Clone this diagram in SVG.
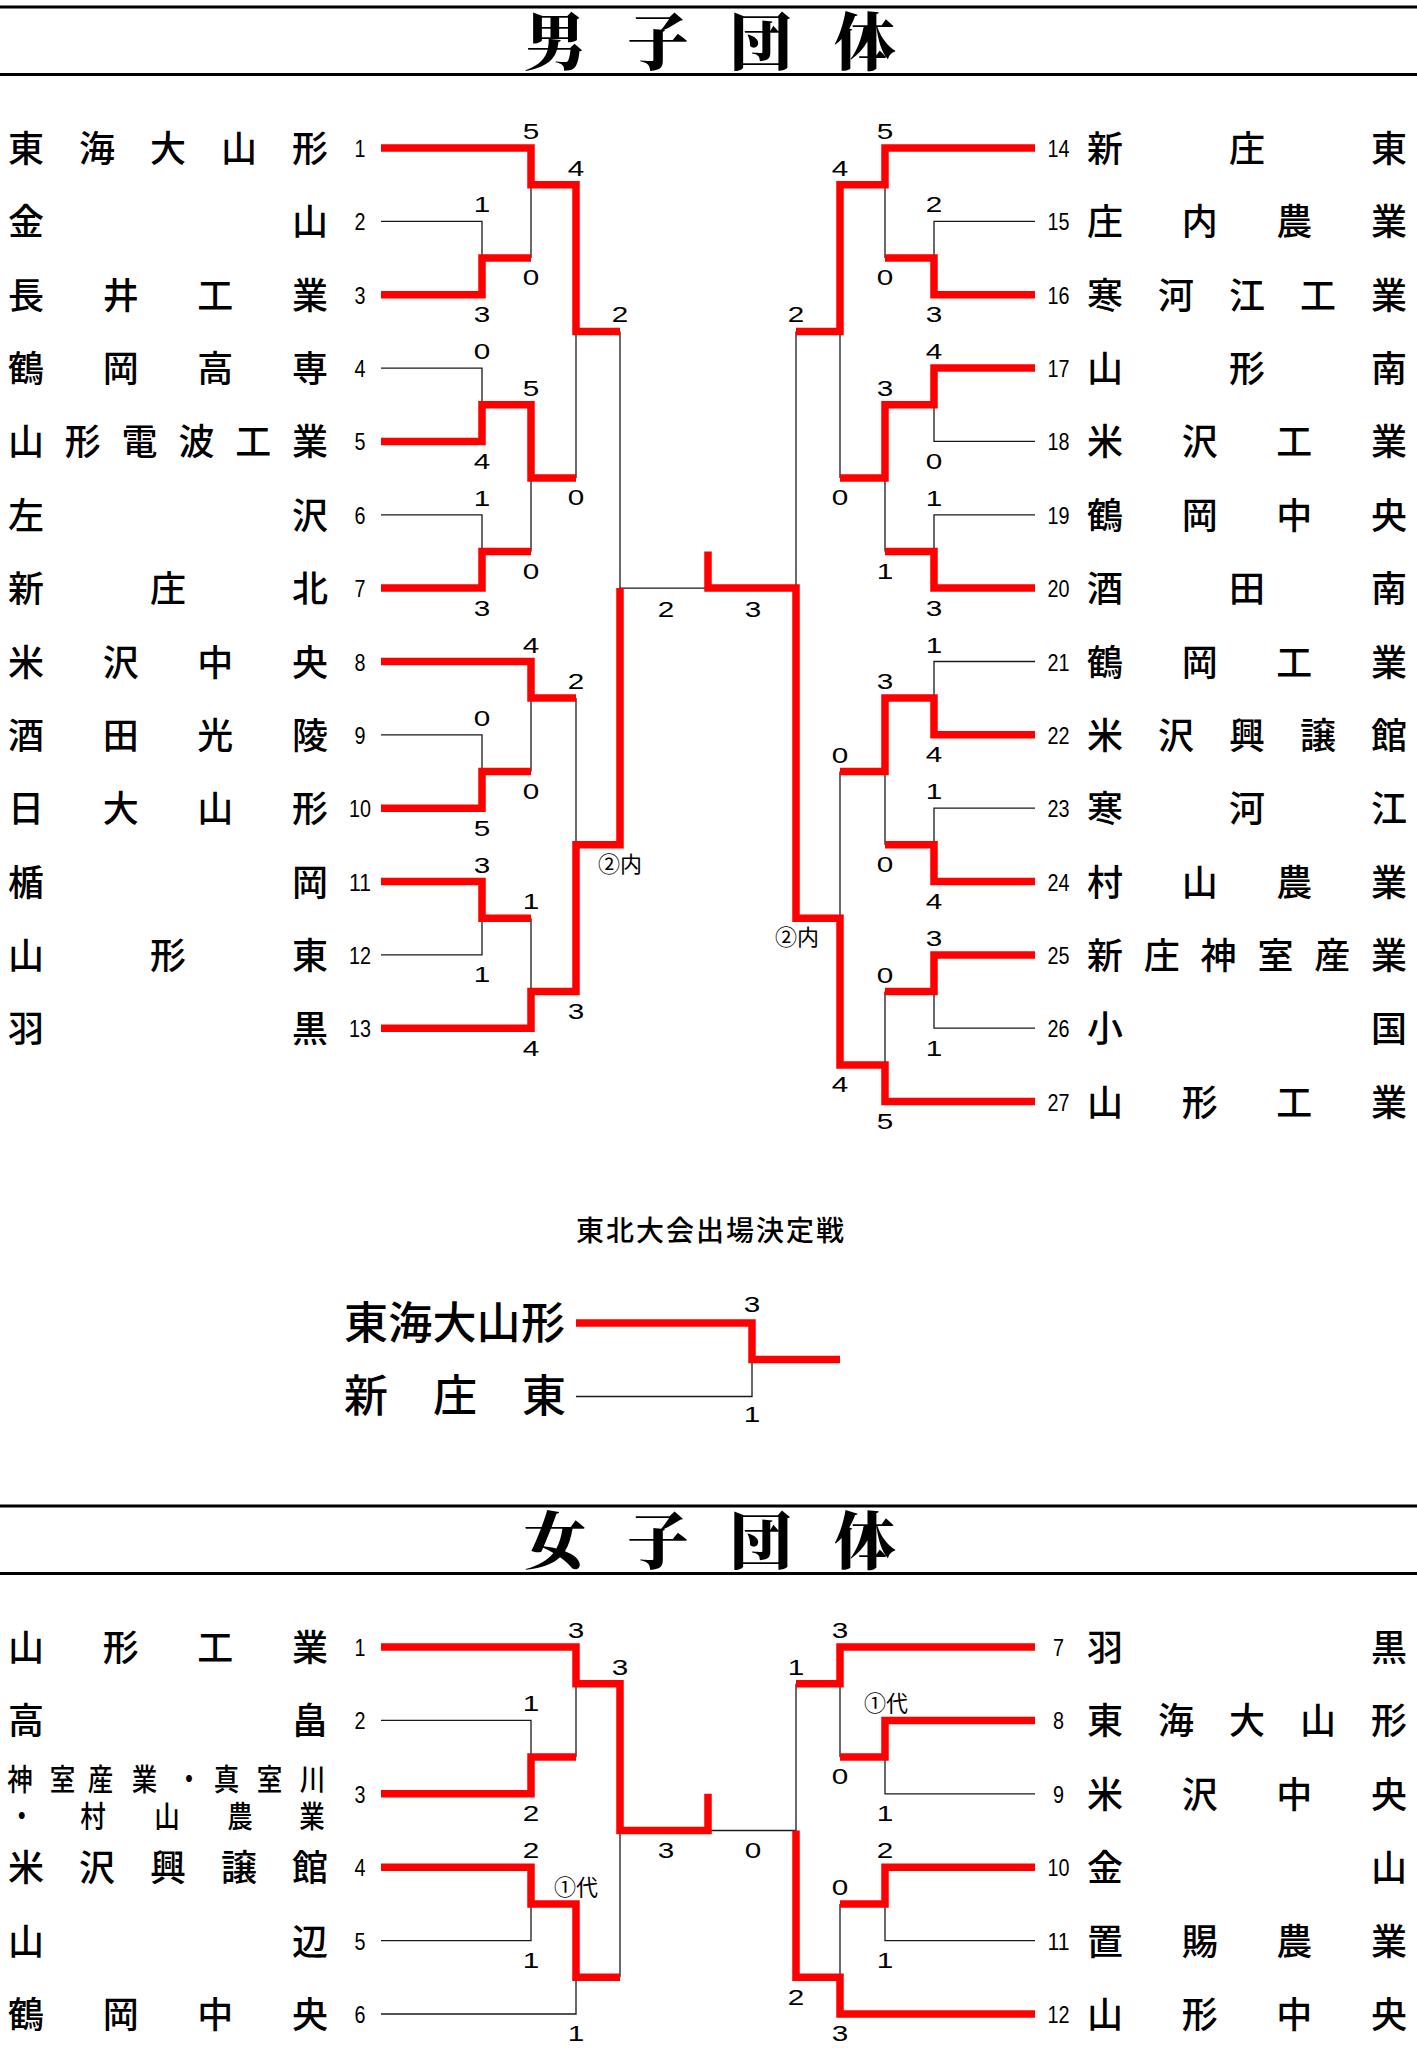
<svg xmlns="http://www.w3.org/2000/svg" width="1417" height="2048" viewBox="0 0 1417 2048">
<style>
.bg{fill:#fff}
.nm{font-family:"Noto Sans CJK JP","Noto Sans CJK SC",sans-serif;font-size:36px;font-weight:500;text-anchor:middle;fill:#000}
.nm2{font-family:"Noto Sans CJK JP","Noto Sans CJK SC",sans-serif;font-size:30px;font-weight:500;text-anchor:middle;fill:#000}
.no{font-family:"Liberation Sans",Arial,sans-serif;font-size:24px;text-anchor:middle;fill:#000}
.sc{font-family:"Liberation Sans",Arial,sans-serif;font-size:22.5px;text-anchor:middle;fill:#000}
.sj{font-family:"Noto Sans CJK JP","Noto Sans CJK SC",sans-serif;font-size:22px;text-anchor:middle;fill:#000}
.ttl{font-family:"Noto Serif CJK JP","Noto Sans CJK JP",serif;font-size:62px;font-weight:900;text-anchor:middle;fill:#000}
.sub{font-family:"Noto Sans CJK JP","Noto Sans CJK SC",sans-serif;font-size:28px;font-weight:500;letter-spacing:2px;text-anchor:middle;fill:#000}
.big{font-family:"Noto Sans CJK JP","Noto Sans CJK SC",sans-serif;font-size:44px;font-weight:500;text-anchor:middle;fill:#000}
.red{fill:none;stroke:#ff0000;stroke-width:7.5;stroke-linejoin:miter;stroke-linecap:butt}
.thin{fill:none;stroke:#1a1a1a;stroke-width:1.3}
.hdr{stroke:#000;stroke-width:3}
</style>
<rect class="bg" x="0" y="0" width="1417" height="2048"/>

<g id="header-men">
<line class="hdr" x1="0" y1="7" x2="1417" y2="7"/>
<line class="hdr" x1="0" y1="74.4" x2="1417" y2="74.4"/>
<text class="ttl" x="555 658 761 865" y="65">男子団体</text>
</g>

<g id="header-women">
<line class="hdr" x1="0" y1="1506" x2="1417" y2="1506"/>
<line class="hdr" x1="0" y1="1573.6" x2="1417" y2="1573.6"/>
<text class="ttl" x="555 658 761 865" y="1564">女子団体</text>
</g>

<g id="connectors">
<path class="thin" d="M381 221.4H482V258"/>
<path class="thin" d="M531 184.7V258"/>
<path class="thin" d="M381 368.1H482V404.7"/>
<path class="thin" d="M381 514.8H482V551.4"/>
<path class="thin" d="M531 478.1V551.4"/>
<path class="thin" d="M576 331.4V478.1"/>
<path class="thin" d="M620 331.4V588.1H708"/>
<path class="thin" d="M381 734.8H482V771.5"/>
<path class="thin" d="M531 698.1V771.5"/>
<path class="thin" d="M381 954.9H482V918.2"/>
<path class="thin" d="M531 918.2V991.5"/>
<path class="thin" d="M576 698.1V844.8"/>
<path class="thin" d="M1035 221.4H934V258"/>
<path class="thin" d="M885 184.7V258"/>
<path class="thin" d="M1035 441.4H934V404.7"/>
<path class="thin" d="M1035 514.8H934V551.4"/>
<path class="thin" d="M885 478.1V551.4"/>
<path class="thin" d="M840 331.4V478.1"/>
<path class="thin" d="M796 331.4V588.1"/>
<path class="thin" d="M1035 661.5H934V698.1"/>
<path class="thin" d="M1035 808.2H934V844.8"/>
<path class="thin" d="M885 771.5V844.8"/>
<path class="thin" d="M1035 1028.2H934V991.5"/>
<path class="thin" d="M885 991.5V1064.9"/>
<path class="thin" d="M840 771.5V918.2"/>
<path class="red" d="M381 148H531V184.7H576V331.4H620"/>
<path class="red" d="M381 294.7H482V258H531"/>
<path class="red" d="M381 441.4H482V404.7H531V478.1H576"/>
<path class="red" d="M381 588.1H482V551.4H531"/>
<path class="red" d="M381 661.5H531V698.1H576"/>
<path class="red" d="M381 808.2H482V771.5H531"/>
<path class="red" d="M381 881.5H482V918.2H531"/>
<path class="red" d="M381 1028.2H531V991.5H576V844.8H620V588.1"/>
<path class="red" d="M1035 148H885V184.7H840V331.4H796"/>
<path class="red" d="M1035 294.7H934V258H885"/>
<path class="red" d="M1035 368.1H934V404.7H885V478.1H840"/>
<path class="red" d="M1035 588.1H934V551.4H885"/>
<path class="red" d="M1035 734.8H934V698.1H885V771.5H840"/>
<path class="red" d="M1035 881.5H934V844.8H885"/>
<path class="red" d="M1035 954.9H934V991.5H885"/>
<path class="red" d="M708 551.4V588.1H796V918.2H840V1064.9H885V1101.6H1035"/>
<path class="thin" d="M576 1396.5H752V1359.5"/>
<path class="red" d="M576 1323H752V1359.5H840"/>
<path class="thin" d="M381 1720.4H531V1757.1"/>
<path class="thin" d="M576 1683.7V1757.1"/>
<path class="thin" d="M381 1940.6H531V1903.9"/>
<path class="thin" d="M381 2014H576V1977.3"/>
<path class="thin" d="M620 1830.5V1977.3"/>
<path class="thin" d="M708 1830.5H796V1683.7"/>
<path class="thin" d="M840 1683.7V1757.1"/>
<path class="thin" d="M1035 1793.8H885V1757.1"/>
<path class="thin" d="M1035 1940.6H885V1903.9"/>
<path class="thin" d="M840 1903.9V1977.3"/>
<path class="red" d="M381 1647H576V1683.7H620V1830.5H708V1793.8"/>
<path class="red" d="M381 1793.8H531V1757.1H576"/>
<path class="red" d="M381 1867.2H531V1903.9H576V1977.3H620"/>
<path class="red" d="M1035 1647H840V1683.7H796"/>
<path class="red" d="M1035 1720.4H885V1757.1H840"/>
<path class="red" d="M1035 1867.2H885V1903.9H840"/>
<path class="red" d="M1035 2014H840V1977.3H796V1830.5"/>
</g>

<g id="scores">
<text class="sc" x="531" y="139" textLength="16.5" lengthAdjust="spacingAndGlyphs">5</text>
<text class="sc" x="482" y="212.4" textLength="16.5" lengthAdjust="spacingAndGlyphs">1</text>
<text class="sc" x="531" y="285.3" textLength="16.5" lengthAdjust="spacingAndGlyphs">0</text>
<text class="sc" x="482" y="322" textLength="16.5" lengthAdjust="spacingAndGlyphs">3</text>
<text class="sc" x="576" y="175.7" textLength="16.5" lengthAdjust="spacingAndGlyphs">4</text>
<text class="sc" x="620" y="322.4" textLength="16.5" lengthAdjust="spacingAndGlyphs">2</text>
<text class="sc" x="482" y="359.1" textLength="16.5" lengthAdjust="spacingAndGlyphs">0</text>
<text class="sc" x="531" y="395.7" textLength="16.5" lengthAdjust="spacingAndGlyphs">5</text>
<text class="sc" x="482" y="468.7" textLength="16.5" lengthAdjust="spacingAndGlyphs">4</text>
<text class="sc" x="576" y="505.4" textLength="16.5" lengthAdjust="spacingAndGlyphs">0</text>
<text class="sc" x="482" y="505.8" textLength="16.5" lengthAdjust="spacingAndGlyphs">1</text>
<text class="sc" x="531" y="578.7" textLength="16.5" lengthAdjust="spacingAndGlyphs">0</text>
<text class="sc" x="482" y="615.6" textLength="16.5" lengthAdjust="spacingAndGlyphs">3</text>
<text class="sc" x="531" y="652.5" textLength="16.5" lengthAdjust="spacingAndGlyphs">4</text>
<text class="sc" x="576" y="689.1" textLength="16.5" lengthAdjust="spacingAndGlyphs">2</text>
<text class="sc" x="482" y="725.8" textLength="16.5" lengthAdjust="spacingAndGlyphs">0</text>
<text class="sc" x="531" y="798.8" textLength="16.5" lengthAdjust="spacingAndGlyphs">0</text>
<text class="sc" x="482" y="835.5" textLength="16.5" lengthAdjust="spacingAndGlyphs">5</text>
<text class="sc" x="482" y="872.5" textLength="16.5" lengthAdjust="spacingAndGlyphs">3</text>
<text class="sc" x="531" y="909.2" textLength="16.5" lengthAdjust="spacingAndGlyphs">1</text>
<text class="sc" x="482" y="982.2" textLength="16.5" lengthAdjust="spacingAndGlyphs">1</text>
<text class="sc" x="576" y="1018.8" textLength="16.5" lengthAdjust="spacingAndGlyphs">3</text>
<text class="sc" x="531" y="1055.5" textLength="16.5" lengthAdjust="spacingAndGlyphs">4</text>
<text class="sj" x="620" y="871.5">②内</text>
<text class="sc" x="666" y="616.5" textLength="16.5" lengthAdjust="spacingAndGlyphs">2</text>
<text class="sc" x="753" y="616.5" textLength="16.5" lengthAdjust="spacingAndGlyphs">3</text>

<text class="sc" x="885" y="139" textLength="16.5" lengthAdjust="spacingAndGlyphs">5</text>
<text class="sc" x="840" y="175.7" textLength="16.5" lengthAdjust="spacingAndGlyphs">4</text>
<text class="sc" x="934" y="212.4" textLength="16.5" lengthAdjust="spacingAndGlyphs">2</text>
<text class="sc" x="885" y="285.3" textLength="16.5" lengthAdjust="spacingAndGlyphs">0</text>
<text class="sc" x="934" y="322" textLength="16.5" lengthAdjust="spacingAndGlyphs">3</text>
<text class="sc" x="796" y="322.4" textLength="16.5" lengthAdjust="spacingAndGlyphs">2</text>
<text class="sc" x="934" y="359.1" textLength="16.5" lengthAdjust="spacingAndGlyphs">4</text>
<text class="sc" x="885" y="395.7" textLength="16.5" lengthAdjust="spacingAndGlyphs">3</text>
<text class="sc" x="934" y="468.7" textLength="16.5" lengthAdjust="spacingAndGlyphs">0</text>
<text class="sc" x="840" y="505.4" textLength="16.5" lengthAdjust="spacingAndGlyphs">0</text>
<text class="sc" x="934" y="505.8" textLength="16.5" lengthAdjust="spacingAndGlyphs">1</text>
<text class="sc" x="885" y="578.7" textLength="16.5" lengthAdjust="spacingAndGlyphs">1</text>
<text class="sc" x="934" y="615.6" textLength="16.5" lengthAdjust="spacingAndGlyphs">3</text>
<text class="sc" x="934" y="652.5" textLength="16.5" lengthAdjust="spacingAndGlyphs">1</text>
<text class="sc" x="885" y="689.1" textLength="16.5" lengthAdjust="spacingAndGlyphs">3</text>
<text class="sc" x="934" y="762.1" textLength="16.5" lengthAdjust="spacingAndGlyphs">4</text>
<text class="sc" x="840" y="762.5" textLength="16.5" lengthAdjust="spacingAndGlyphs">0</text>
<text class="sc" x="934" y="799.2" textLength="16.5" lengthAdjust="spacingAndGlyphs">1</text>
<text class="sc" x="885" y="872.1" textLength="16.5" lengthAdjust="spacingAndGlyphs">0</text>
<text class="sc" x="934" y="908.8" textLength="16.5" lengthAdjust="spacingAndGlyphs">4</text>
<text class="sj" x="797" y="945">②内</text>
<text class="sc" x="934" y="945.9" textLength="16.5" lengthAdjust="spacingAndGlyphs">3</text>
<text class="sc" x="885" y="982.5" textLength="16.5" lengthAdjust="spacingAndGlyphs">0</text>
<text class="sc" x="934" y="1055.5" textLength="16.5" lengthAdjust="spacingAndGlyphs">1</text>
<text class="sc" x="840" y="1092.2" textLength="16.5" lengthAdjust="spacingAndGlyphs">4</text>
<text class="sc" x="885" y="1128.9" textLength="16.5" lengthAdjust="spacingAndGlyphs">5</text>

<text class="sc" x="752" y="1312" textLength="16.5" lengthAdjust="spacingAndGlyphs">3</text>
<text class="sc" x="752" y="1422" textLength="16.5" lengthAdjust="spacingAndGlyphs">1</text>

<text class="sc" x="576" y="1638" textLength="16.5" lengthAdjust="spacingAndGlyphs">3</text>
<text class="sc" x="620" y="1674.7" textLength="16.5" lengthAdjust="spacingAndGlyphs">3</text>
<text class="sc" x="531" y="1711.4" textLength="16.5" lengthAdjust="spacingAndGlyphs">1</text>
<text class="sc" x="531" y="1821.1" textLength="16.5" lengthAdjust="spacingAndGlyphs">2</text>
<text class="sc" x="666" y="1857.8" textLength="16.5" lengthAdjust="spacingAndGlyphs">3</text>
<text class="sc" x="531" y="1858.2" textLength="16.5" lengthAdjust="spacingAndGlyphs">2</text>
<text class="sj" x="576" y="1895">①代</text>
<text class="sc" x="531" y="1967.9" textLength="16.5" lengthAdjust="spacingAndGlyphs">1</text>
<text class="sc" x="576" y="2041.3" textLength="16.5" lengthAdjust="spacingAndGlyphs">1</text>

<text class="sc" x="840" y="1638" textLength="16.5" lengthAdjust="spacingAndGlyphs">3</text>
<text class="sc" x="796" y="1674.7" textLength="16.5" lengthAdjust="spacingAndGlyphs">1</text>
<text class="sj" x="886" y="1711">①代</text>
<text class="sc" x="840" y="1784.4" textLength="16.5" lengthAdjust="spacingAndGlyphs">0</text>
<text class="sc" x="885" y="1821.1" textLength="16.5" lengthAdjust="spacingAndGlyphs">1</text>
<text class="sc" x="753" y="1857.8" textLength="16.5" lengthAdjust="spacingAndGlyphs">0</text>
<text class="sc" x="885" y="1858.2" textLength="16.5" lengthAdjust="spacingAndGlyphs">2</text>
<text class="sc" x="840" y="1894.9" textLength="16.5" lengthAdjust="spacingAndGlyphs">0</text>
<text class="sc" x="885" y="1967.9" textLength="16.5" lengthAdjust="spacingAndGlyphs">1</text>
<text class="sc" x="796" y="2004.6" textLength="16.5" lengthAdjust="spacingAndGlyphs">2</text>
<text class="sc" x="840" y="2041.3" textLength="16.5" lengthAdjust="spacingAndGlyphs">3</text>
</g>

<g id="m1"><text class="nm" x="26 97 168 239 310" y="162">東海大山形</text><text class="no" x="360" y="157" textLength="11" lengthAdjust="spacingAndGlyphs">1</text></g>
<g id="m2"><text class="nm" x="26 310" y="235.4">金山</text><text class="no" x="360" y="230.4" textLength="11" lengthAdjust="spacingAndGlyphs">2</text></g>
<g id="m3"><text class="nm" x="26 120.7 215.3 310" y="308.7">長井工業</text><text class="no" x="360" y="303.7" textLength="11" lengthAdjust="spacingAndGlyphs">3</text></g>
<g id="m4"><text class="nm" x="26 120.7 215.3 310" y="382.1">鶴岡高専</text><text class="no" x="360" y="377.1" textLength="11" lengthAdjust="spacingAndGlyphs">4</text></g>
<g id="m5"><text class="nm" x="26 82.8 139.6 196.4 253.2 310" y="455.4">山形電波工業</text><text class="no" x="360" y="450.4" textLength="11" lengthAdjust="spacingAndGlyphs">5</text></g>
<g id="m6"><text class="nm" x="26 310" y="528.8">左沢</text><text class="no" x="360" y="523.8" textLength="11" lengthAdjust="spacingAndGlyphs">6</text></g>
<g id="m7"><text class="nm" x="26 168 310" y="602.1">新庄北</text><text class="no" x="360" y="597.1" textLength="11" lengthAdjust="spacingAndGlyphs">7</text></g>
<g id="m8"><text class="nm" x="26 120.7 215.3 310" y="675.5">米沢中央</text><text class="no" x="360" y="670.5" textLength="11" lengthAdjust="spacingAndGlyphs">8</text></g>
<g id="m9"><text class="nm" x="26 120.7 215.3 310" y="748.8">酒田光陵</text><text class="no" x="360" y="743.8" textLength="11" lengthAdjust="spacingAndGlyphs">9</text></g>
<g id="m10"><text class="nm" x="26 120.7 215.3 310" y="822.2">日大山形</text><text class="no" x="360" y="817.2" textLength="22" lengthAdjust="spacingAndGlyphs">10</text></g>
<g id="m11"><text class="nm" x="26 310" y="895.5">楯岡</text><text class="no" x="360" y="890.5" textLength="22" lengthAdjust="spacingAndGlyphs">11</text></g>
<g id="m12"><text class="nm" x="26 168 310" y="968.9">山形東</text><text class="no" x="360" y="963.9" textLength="22" lengthAdjust="spacingAndGlyphs">12</text></g>
<g id="m13"><text class="nm" x="26 310" y="1042.2">羽黒</text><text class="no" x="360" y="1037.2" textLength="22" lengthAdjust="spacingAndGlyphs">13</text></g>

<g id="m14"><text class="no" x="1058.5" y="157" textLength="22" lengthAdjust="spacingAndGlyphs">14</text><text class="nm" x="1105 1247 1389" y="162">新庄東</text></g>
<g id="m15"><text class="no" x="1058.5" y="230.4" textLength="22" lengthAdjust="spacingAndGlyphs">15</text><text class="nm" x="1105 1199.7 1294.3 1389" y="235.4">庄内農業</text></g>
<g id="m16"><text class="no" x="1058.5" y="303.7" textLength="22" lengthAdjust="spacingAndGlyphs">16</text><text class="nm" x="1105 1176 1247 1318 1389" y="308.7">寒河江工業</text></g>
<g id="m17"><text class="no" x="1058.5" y="377.1" textLength="22" lengthAdjust="spacingAndGlyphs">17</text><text class="nm" x="1105 1247 1389" y="382.1">山形南</text></g>
<g id="m18"><text class="no" x="1058.5" y="450.4" textLength="22" lengthAdjust="spacingAndGlyphs">18</text><text class="nm" x="1105 1199.7 1294.3 1389" y="455.4">米沢工業</text></g>
<g id="m19"><text class="no" x="1058.5" y="523.8" textLength="22" lengthAdjust="spacingAndGlyphs">19</text><text class="nm" x="1105 1199.7 1294.3 1389" y="528.8">鶴岡中央</text></g>
<g id="m20"><text class="no" x="1058.5" y="597.1" textLength="22" lengthAdjust="spacingAndGlyphs">20</text><text class="nm" x="1105 1247 1389" y="602.1">酒田南</text></g>
<g id="m21"><text class="no" x="1058.5" y="670.5" textLength="22" lengthAdjust="spacingAndGlyphs">21</text><text class="nm" x="1105 1199.7 1294.3 1389" y="675.5">鶴岡工業</text></g>
<g id="m22"><text class="no" x="1058.5" y="743.8" textLength="22" lengthAdjust="spacingAndGlyphs">22</text><text class="nm" x="1105 1176 1247 1318 1389" y="748.8">米沢興譲館</text></g>
<g id="m23"><text class="no" x="1058.5" y="817.2" textLength="22" lengthAdjust="spacingAndGlyphs">23</text><text class="nm" x="1105 1247 1389" y="822.2">寒河江</text></g>
<g id="m24"><text class="no" x="1058.5" y="890.5" textLength="22" lengthAdjust="spacingAndGlyphs">24</text><text class="nm" x="1105 1199.7 1294.3 1389" y="895.5">村山農業</text></g>
<g id="m25"><text class="no" x="1058.5" y="963.9" textLength="22" lengthAdjust="spacingAndGlyphs">25</text><text class="nm" x="1105 1161.8 1218.6 1275.4 1332.2 1389" y="968.9">新庄神室産業</text></g>
<g id="m26"><text class="no" x="1058.5" y="1037.2" textLength="22" lengthAdjust="spacingAndGlyphs">26</text><text class="nm" x="1105 1389" y="1042.2">小国</text></g>
<g id="m27"><text class="no" x="1058.5" y="1110.6" textLength="22" lengthAdjust="spacingAndGlyphs">27</text><text class="nm" x="1105 1199.7 1294.3 1389" y="1115.6">山形工業</text></g>

<g id="decider-title"><text class="sub" x="711" y="1241">東北大会出場決定戦</text></g>
<g id="d1"><text class="big" x="366 410.2 454.4 498.6 543" y="1339">東海大山形</text></g>
<g id="d2"><text class="big" x="366 455 544" y="1412">新庄東</text></g>

<g id="w1"><text class="nm" x="26 120.7 215.3 310" y="1661">山形工業</text><text class="no" x="360" y="1656" textLength="11" lengthAdjust="spacingAndGlyphs">1</text></g>
<g id="w2"><text class="nm" x="26 310" y="1734.4">高畠</text><text class="no" x="360" y="1729.4" textLength="11" lengthAdjust="spacingAndGlyphs">2</text></g>
<g id="w3"><text class="nm2" transform="scale(0.85 1)" x="23.5 73.5 118.2 170 222.4 266.5 317.1 367.6" y="1790">神室産業・真室川</text><text class="nm2" transform="scale(0.85 1)" x="25.5 109.4 196.5 282.4 367.1" y="1827">・村山農業</text><text class="no" x="360" y="1803" textLength="11" lengthAdjust="spacingAndGlyphs">3</text></g>
<g id="w4"><text class="nm" x="26 97 168 239 310" y="1881.2">米沢興譲館</text><text class="no" x="360" y="1876.2" textLength="11" lengthAdjust="spacingAndGlyphs">4</text></g>
<g id="w5"><text class="nm" x="26 310" y="1954.6">山辺</text><text class="no" x="360" y="1949.6" textLength="11" lengthAdjust="spacingAndGlyphs">5</text></g>
<g id="w6"><text class="nm" x="26 120.7 215.3 310" y="2028">鶴岡中央</text><text class="no" x="360" y="2023" textLength="11" lengthAdjust="spacingAndGlyphs">6</text></g>

<g id="w7"><text class="no" x="1058.5" y="1656" textLength="11" lengthAdjust="spacingAndGlyphs">7</text><text class="nm" x="1105 1389" y="1661">羽黒</text></g>
<g id="w8"><text class="no" x="1058.5" y="1729.4" textLength="11" lengthAdjust="spacingAndGlyphs">8</text><text class="nm" x="1105 1176 1247 1318 1389" y="1734.4">東海大山形</text></g>
<g id="w9"><text class="no" x="1058.5" y="1803" textLength="11" lengthAdjust="spacingAndGlyphs">9</text><text class="nm" x="1105 1199.7 1294.3 1389" y="1807.8">米沢中央</text></g>
<g id="w10"><text class="no" x="1058.5" y="1876.2" textLength="22" lengthAdjust="spacingAndGlyphs">10</text><text class="nm" x="1105 1389" y="1881.2">金山</text></g>
<g id="w11"><text class="no" x="1058.5" y="1949.6" textLength="22" lengthAdjust="spacingAndGlyphs">11</text><text class="nm" x="1105 1199.7 1294.3 1389" y="1954.6">置賜農業</text></g>
<g id="w12"><text class="no" x="1058.5" y="2023" textLength="22" lengthAdjust="spacingAndGlyphs">12</text><text class="nm" x="1105 1199.7 1294.3 1389" y="2028">山形中央</text></g>
</svg>
